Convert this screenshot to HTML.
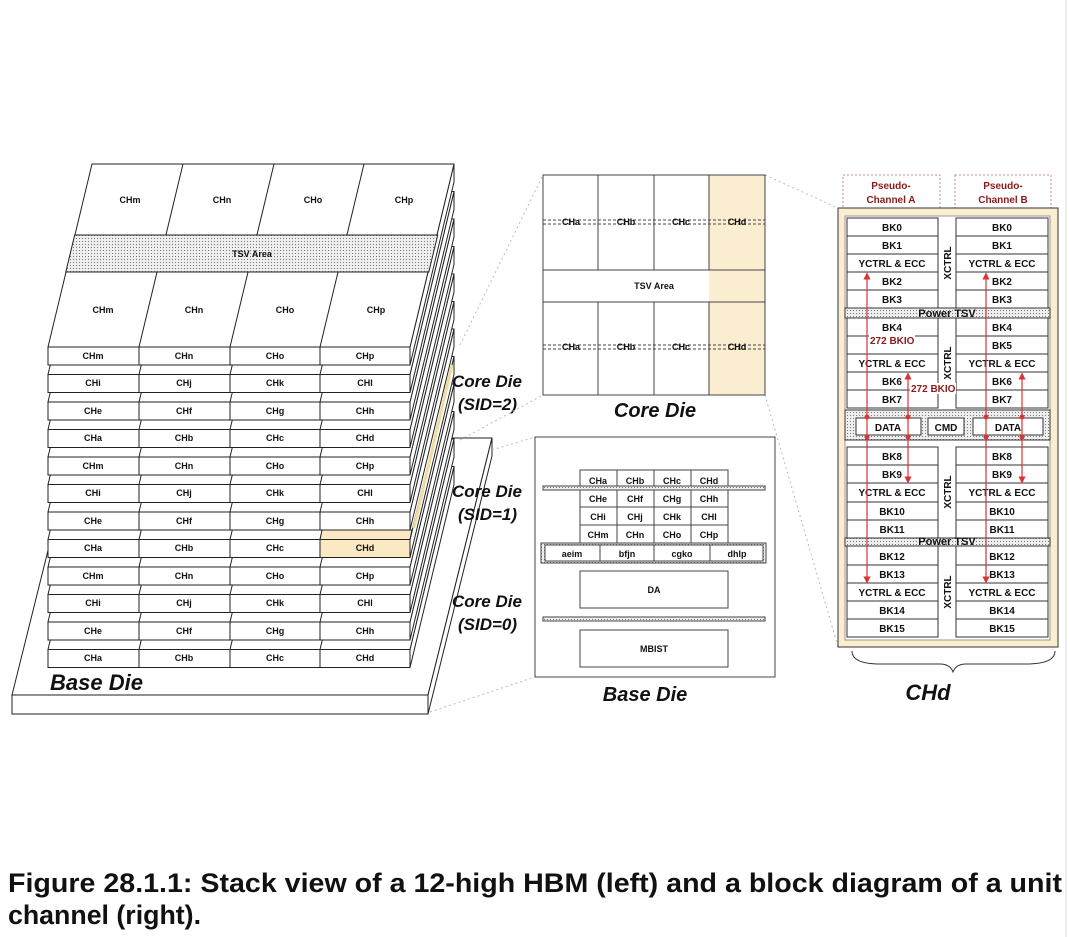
<!DOCTYPE html>
<html><head><meta charset="utf-8"><style>
html,body{margin:0;padding:0;background:#fff;}
svg{display:block;}
.t{font-family:"Liberation Sans",sans-serif;font-weight:bold;font-size:9px;text-anchor:middle;fill:#111;}
.bi{font-family:"Liberation Sans",sans-serif;font-weight:bold;font-style:italic;fill:#111;}
.r{font-family:"Liberation Sans",sans-serif;font-weight:bold;font-size:10px;text-anchor:middle;fill:#111;}
.red{font-family:"Liberation Sans",sans-serif;font-weight:bold;font-size:10px;fill:#8b1a1a;}
</style></head><body>
<svg width="1070" height="937" viewBox="0 0 1070 937" xmlns="http://www.w3.org/2000/svg">
<defs>
<pattern id="dots" width="3" height="3" patternUnits="userSpaceOnUse"><rect width="3" height="3" fill="#eeeeee"/><rect x="1" y="1" width="1" height="1" fill="#777"/></pattern>
<g id="die" stroke="#222" stroke-width="1">
<polygon points="410,0 454,-183 454,-165 410,18" fill="#fff"/>
<polygon points="48,0 410,0 454,-183 92,-183" fill="#fff"/>
<line x1="139" y1="0" x2="183" y2="-183"/><line x1="230" y1="0" x2="274" y2="-183"/><line x1="320" y1="0" x2="364" y2="-183"/>
<rect x="48" y="0" width="362" height="18" fill="#fff"/>
<line x1="139" y1="0" x2="139" y2="18"/><line x1="230" y1="0" x2="230" y2="18"/><line x1="320" y1="0" x2="320" y2="18"/>
</g>
<marker id="ar" markerWidth="6" markerHeight="6" refX="3" refY="3" orient="auto"><path d="M0,0 L6,3 L0,6 z" fill="#d33"/></marker>
</defs>

<!-- base die -->
<g stroke="#222" stroke-width="1">
<polygon points="12,695 428,695 492,438 76,438" fill="#fff"/>
<rect x="12" y="695" width="416" height="19" fill="#fff"/>
<polygon points="428,695 492,438 492,456 428,714" fill="#fff"/>
</g>
<text class="bi" x="50" y="690" font-size="22">Base Die</text>

<!-- dies bottom to top -->
<use href="#die" transform="translate(0,649.5)"/>
<use href="#die" transform="translate(0,622)"/>
<use href="#die" transform="translate(0,594.5)"/>
<use href="#die" transform="translate(0,567)"/>
<use href="#die" transform="translate(0,539.5)"/>
<polygon points="320,539.5 410,539.5 412,530 322,530" fill="#fbe9c4" stroke="#222" stroke-width="1"/>
<rect x="320.5" y="540" width="89" height="17" fill="#fbe9c4"/>
<use href="#die" transform="translate(0,512)"/>
<use href="#die" transform="translate(0,484.5)"/>
<use href="#die" transform="translate(0,457)"/>
<use href="#die" transform="translate(0,429.5)"/>
<use href="#die" transform="translate(0,402)"/>
<use href="#die" transform="translate(0,374.5)"/>
<use href="#die" transform="translate(0,347)"/>
<line x1="414" y1="528" x2="452" y2="365" stroke="#f0dca0" stroke-width="3"/>
<!-- top die TSV -->
<polygon points="74.7,235 437.7,235 428.8,272 65.8,272" fill="url(#dots)" stroke="#222"/>
<text class="t" x="252" y="257">TSV Area</text>
<g class="t">
<text x="130" y="203">CHm</text><text x="222" y="203">CHn</text><text x="313" y="203">CHo</text><text x="404" y="203">CHp</text>
<text x="103" y="313">CHm</text><text x="194" y="313">CHn</text><text x="285" y="313">CHo</text><text x="376" y="313">CHp</text>
</g>
<g class="t">
<text x="93" y="359">CHm</text><text x="184" y="359">CHn</text><text x="275" y="359">CHo</text><text x="365" y="359">CHp</text>
<text x="93" y="386">CHi</text><text x="184" y="386">CHj</text><text x="275" y="386">CHk</text><text x="365" y="386">CHl</text>
<text x="93" y="414">CHe</text><text x="184" y="414">CHf</text><text x="275" y="414">CHg</text><text x="365" y="414">CHh</text>
<text x="93" y="441">CHa</text><text x="184" y="441">CHb</text><text x="275" y="441">CHc</text><text x="365" y="441">CHd</text>
<text x="93" y="469">CHm</text><text x="184" y="469">CHn</text><text x="275" y="469">CHo</text><text x="365" y="469">CHp</text>
<text x="93" y="496">CHi</text><text x="184" y="496">CHj</text><text x="275" y="496">CHk</text><text x="365" y="496">CHl</text>
<text x="93" y="524">CHe</text><text x="184" y="524">CHf</text><text x="275" y="524">CHg</text><text x="365" y="524">CHh</text>
<text x="93" y="551">CHa</text><text x="184" y="551">CHb</text><text x="275" y="551">CHc</text><text x="365" y="551">CHd</text>
<text x="93" y="579">CHm</text><text x="184" y="579">CHn</text><text x="275" y="579">CHo</text><text x="365" y="579">CHp</text>
<text x="93" y="606">CHi</text><text x="184" y="606">CHj</text><text x="275" y="606">CHk</text><text x="365" y="606">CHl</text>
<text x="93" y="634">CHe</text><text x="184" y="634">CHf</text><text x="275" y="634">CHg</text><text x="365" y="634">CHh</text>
<text x="93" y="661">CHa</text><text x="184" y="661">CHb</text><text x="275" y="661">CHc</text><text x="365" y="661">CHd</text>
</g>
<g class="bi" font-size="17">
<text x="452" y="387">Core Die</text><text x="458" y="410">(SID=2)</text>
<text x="452" y="497">Core Die</text><text x="458" y="520">(SID=1)</text>
<text x="452" y="607">Core Die</text><text x="458" y="630">(SID=0)</text>
</g>

<!-- dotted connectors -->
<g stroke="#bbb" stroke-width="1" stroke-dasharray="2,3" fill="none">
<line x1="460" y1="345" x2="543" y2="175"/><line x1="460" y1="440" x2="543" y2="395"/>
<line x1="492" y1="450" x2="535" y2="437"/><line x1="430" y1="712" x2="535" y2="677"/>
<line x1="765" y1="175" x2="838" y2="208"/><line x1="765" y1="395" x2="838" y2="647"/>
</g>

<!-- core die detail -->
<rect x="709" y="175" width="56" height="220" fill="#fbedd0"/>
<g stroke="#444" stroke-width="1" fill="none">
<rect x="543" y="175" width="222" height="220"/>
<line x1="543" y1="270" x2="765" y2="270"/><line x1="543" y1="302" x2="765" y2="302"/>
<line x1="598" y1="175" x2="598" y2="270"/><line x1="654" y1="175" x2="654" y2="270"/><line x1="709" y1="175" x2="709" y2="270"/>
<line x1="598" y1="302" x2="598" y2="395"/><line x1="654" y1="302" x2="654" y2="395"/><line x1="709" y1="302" x2="709" y2="395"/>
<rect x="543" y="220" width="222" height="4" stroke-dasharray="3,2"/>
<rect x="543" y="345" width="222" height="4" stroke-dasharray="3,2"/>
</g>
<g class="t"><text x="571" y="225">CHa</text><text x="626" y="225">CHb</text><text x="681" y="225">CHc</text><text x="737" y="225">CHd</text>
<text x="571" y="350">CHa</text><text x="626" y="350">CHb</text><text x="681" y="350">CHc</text><text x="737" y="350">CHd</text>
<text x="654" y="289">TSV Area</text></g>
<text class="bi" x="655" y="417" font-size="20" text-anchor="middle">Core Die</text>

<!-- base die detail -->
<g stroke="#444" stroke-width="1" fill="#fff">
<rect x="535" y="437" width="240" height="240"/>
<rect x="580" y="470" width="148" height="73"/>
<line x1="617" y1="470" x2="617" y2="543"/><line x1="654" y1="470" x2="654" y2="543"/><line x1="691" y1="470" x2="691" y2="543"/>
<line x1="580" y1="507" x2="728" y2="507"/><line x1="580" y1="525" x2="728" y2="525"/>
<rect x="543" y="486" width="222" height="4" fill="url(#dots)"/>
<rect x="541" y="543" width="225" height="20" fill="url(#dots)"/>
<rect x="545" y="545" width="218" height="16"/>
<line x1="600" y1="545" x2="600" y2="561"/><line x1="654" y1="545" x2="654" y2="561"/><line x1="710" y1="545" x2="710" y2="561"/>
<rect x="580" y="571" width="148" height="37"/>
<rect x="543" y="617" width="222" height="4" fill="url(#dots)"/>
<rect x="580" y="630" width="148" height="37"/>
</g>
<g class="t" font-size="10">
<text x="598" y="484">CHa</text><text x="635" y="484">CHb</text><text x="672" y="484">CHc</text><text x="709" y="484">CHd</text>
<text x="598" y="502">CHe</text><text x="635" y="502">CHf</text><text x="672" y="502">CHg</text><text x="709" y="502">CHh</text>
<text x="598" y="520">CHi</text><text x="635" y="520">CHj</text><text x="672" y="520">CHk</text><text x="709" y="520">CHl</text>
<text x="598" y="538">CHm</text><text x="635" y="538">CHn</text><text x="672" y="538">CHo</text><text x="709" y="538">CHp</text>
<text x="572" y="557">aeim</text><text x="627" y="557">bfjn</text><text x="682" y="557">cgko</text><text x="737" y="557">dhlp</text>
<text x="654" y="593">DA</text><text x="654" y="652">MBIST</text>
</g>
<text class="bi" x="645" y="701" font-size="20" text-anchor="middle">Base Die</text>

<!-- CHd panel -->
<g stroke="#c88" stroke-width="1" stroke-dasharray="2,2" fill="none">
<rect x="843" y="175" width="97" height="33"/><rect x="955" y="175" width="96" height="33"/>
</g>
<g class="red" text-anchor="middle" font-size="11"><text x="891" y="189">Pseudo-</text><text x="891" y="203">Channel A</text>
<text x="1003" y="189">Pseudo-</text><text x="1003" y="203">Channel B</text></g>
<rect x="838" y="208" width="220" height="439" fill="#fbedd0" stroke="#333"/>
<rect x="845" y="216" width="205" height="424" fill="#fff" stroke="#999"/>
<g stroke="#333" stroke-width="1" fill="#fff">
<rect x="847" y="218" width="91" height="90"/><rect x="956" y="218" width="92" height="90"/>
<rect x="847" y="318" width="91" height="90"/><rect x="956" y="318" width="92" height="90"/>
<rect x="847" y="447" width="91" height="91"/><rect x="956" y="447" width="92" height="91"/>
<rect x="847" y="546" width="91" height="91"/><rect x="956" y="546" width="92" height="91"/>
<rect x="845" y="308" width="205" height="10" fill="url(#dots)"/>
<rect x="845" y="538" width="205" height="8" fill="url(#dots)"/>
<rect x="845" y="410" width="205" height="30" fill="url(#dots)"/>
<rect x="856" y="418" width="65" height="17"/><rect x="928" y="418" width="36" height="17"/><rect x="973" y="418" width="70" height="17"/>
</g>
<g stroke="#333" stroke-width="1">
<line x1="847" y1="236" x2="938" y2="236"/><line x1="847" y1="254" x2="938" y2="254"/><line x1="847" y1="272" x2="938" y2="272"/><line x1="847" y1="290" x2="938" y2="290"/>
<line x1="956" y1="236" x2="1048" y2="236"/><line x1="956" y1="254" x2="1048" y2="254"/><line x1="956" y1="272" x2="1048" y2="272"/><line x1="956" y1="290" x2="1048" y2="290"/>
<line x1="847" y1="336" x2="938" y2="336"/><line x1="847" y1="354" x2="938" y2="354"/><line x1="847" y1="372" x2="938" y2="372"/><line x1="847" y1="390" x2="938" y2="390"/>
<line x1="956" y1="336" x2="1048" y2="336"/><line x1="956" y1="354" x2="1048" y2="354"/><line x1="956" y1="372" x2="1048" y2="372"/><line x1="956" y1="390" x2="1048" y2="390"/>
<line x1="847" y1="465" x2="938" y2="465"/><line x1="847" y1="483" x2="938" y2="483"/><line x1="847" y1="502" x2="938" y2="502"/><line x1="847" y1="520" x2="938" y2="520"/>
<line x1="956" y1="465" x2="1048" y2="465"/><line x1="956" y1="483" x2="1048" y2="483"/><line x1="956" y1="502" x2="1048" y2="502"/><line x1="956" y1="520" x2="1048" y2="520"/>
<line x1="847" y1="565" x2="938" y2="565"/><line x1="847" y1="583" x2="938" y2="583"/><line x1="847" y1="601" x2="938" y2="601"/><line x1="847" y1="619" x2="938" y2="619"/>
<line x1="956" y1="565" x2="1048" y2="565"/><line x1="956" y1="583" x2="1048" y2="583"/><line x1="956" y1="601" x2="1048" y2="601"/><line x1="956" y1="619" x2="1048" y2="619"/>
</g>
<g class="r">
<text x="892" y="231">BK0</text><text x="892" y="249">BK1</text><text x="892" y="267">YCTRL &amp; ECC</text><text x="892" y="285">BK2</text><text x="892" y="303">BK3</text>
<text x="1002" y="231">BK0</text><text x="1002" y="249">BK1</text><text x="1002" y="267">YCTRL &amp; ECC</text><text x="1002" y="285">BK2</text><text x="1002" y="303">BK3</text>
<text x="892" y="331">BK4</text><text x="892" y="367">YCTRL &amp; ECC</text><text x="892" y="385">BK6</text><text x="892" y="403">BK7</text>
<text x="1002" y="331">BK4</text><text x="1002" y="349">BK5</text><text x="1002" y="367">YCTRL &amp; ECC</text><text x="1002" y="385">BK6</text><text x="1002" y="403">BK7</text>
<text x="892" y="460">BK8</text><text x="892" y="478">BK9</text><text x="892" y="496">YCTRL &amp; ECC</text><text x="892" y="515">BK10</text><text x="892" y="533">BK11</text>
<text x="1002" y="460">BK8</text><text x="1002" y="478">BK9</text><text x="1002" y="496">YCTRL &amp; ECC</text><text x="1002" y="515">BK10</text><text x="1002" y="533">BK11</text>
<text x="892" y="560">BK12</text><text x="892" y="578">BK13</text><text x="892" y="596">YCTRL &amp; ECC</text><text x="892" y="614">BK14</text><text x="892" y="632">BK15</text>
<text x="1002" y="560">BK12</text><text x="1002" y="578">BK13</text><text x="1002" y="596">YCTRL &amp; ECC</text><text x="1002" y="614">BK14</text><text x="1002" y="632">BK15</text>
<text x="947" y="317" font-size="11">Power TSV</text><text x="947" y="545" font-size="11">Power TSV</text>
<text x="888" y="431">DATA</text><text x="946" y="431">CMD</text><text x="1008" y="431">DATA</text>
</g>
<g class="r" font-size="11">
<text transform="translate(951,263) rotate(-90)">XCTRL</text><text transform="translate(951,363) rotate(-90)">XCTRL</text>
<text transform="translate(951,492) rotate(-90)">XCTRL</text><text transform="translate(951,592) rotate(-90)">XCTRL</text>
</g>
<g stroke="#d33" stroke-width="1.2" fill="none">
<line x1="867" y1="428" x2="867" y2="276" marker-end="url(#ar)"/><line x1="908" y1="428" x2="908" y2="376" marker-end="url(#ar)"/>
<line x1="986" y1="428" x2="986" y2="276" marker-end="url(#ar)"/><line x1="1022" y1="428" x2="1022" y2="376" marker-end="url(#ar)"/>
<line x1="867" y1="428" x2="867" y2="580" marker-end="url(#ar)"/><line x1="908" y1="428" x2="908" y2="480" marker-end="url(#ar)"/>
<line x1="986" y1="428" x2="986" y2="580" marker-end="url(#ar)"/><line x1="1022" y1="428" x2="1022" y2="480" marker-end="url(#ar)"/>
</g>
<g fill="#d33"><circle cx="867" cy="417" r="2.5"/><circle cx="908" cy="417" r="2.5"/><circle cx="986" cy="417" r="2.5"/><circle cx="1022" cy="417" r="2.5"/>
<circle cx="867" cy="437" r="2.5"/><circle cx="908" cy="437" r="2.5"/><circle cx="986" cy="437" r="2.5"/><circle cx="1022" cy="437" r="2.5"/></g>
<rect x="869" y="335" width="46" height="11" fill="#fff"/>
<text class="red" x="870" y="344">272 BKIO</text>
<rect x="910" y="383" width="46" height="11" fill="#fff"/>
<text class="red" x="911" y="392">272 BKIO</text>
<path d="M852,651 Q852,664 880,664 L940,664 Q950,664 953,672 Q956,664 966,664 L1026,664 Q1055,664 1055,651" fill="none" stroke="#333"/>
<text class="bi" x="928" y="700" font-size="22" text-anchor="middle">CHd</text>

<line x1="1066" y1="0" x2="1066" y2="937" stroke="#ddd"/>
<text x="8" y="892" font-family="Liberation Sans, sans-serif" font-weight="bold" font-size="27" fill="#111" textLength="1054" lengthAdjust="spacingAndGlyphs">Figure 28.1.1: Stack view of a 12-high HBM (left) and a block diagram of a unit</text>
<text x="8" y="924" font-family="Liberation Sans, sans-serif" font-weight="bold" font-size="27" fill="#111" textLength="193" lengthAdjust="spacingAndGlyphs">channel (right).</text>
</svg>
</body></html>
